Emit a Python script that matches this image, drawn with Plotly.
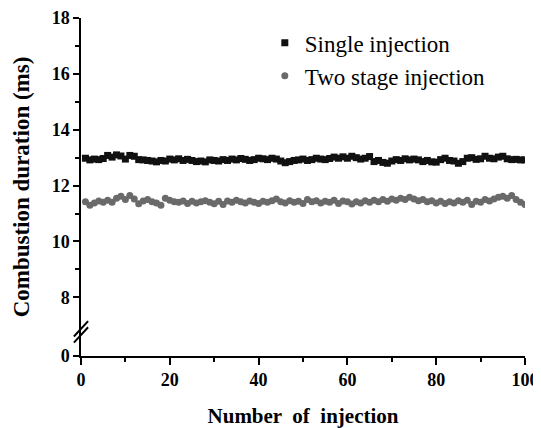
import plotly.graph_objects as go

# Injection number
shots = list(range(1, 101))

# Combustion duration (ms), single injection
single = [12.98, 12.92, 12.95, 12.93, 12.97, 13.08, 13.02, 13.10, 13.06, 12.95,
          13.08, 13.05, 12.93, 12.92, 12.90, 12.88, 12.85, 12.90, 12.88, 12.95,
          12.92, 12.96, 12.90, 12.94, 12.90, 12.86, 12.88, 12.85, 12.92, 12.90,
          12.88, 12.93, 12.90, 12.95, 12.92, 12.97, 12.94, 12.90, 12.93, 12.98,
          12.96, 12.93, 12.98, 12.95, 12.88, 12.82, 12.86, 12.90, 12.92, 12.95,
          12.90, 12.93, 12.98, 12.95, 12.93, 12.97, 13.02, 12.98, 13.03, 12.98,
          13.05, 13.00, 12.95, 12.98, 13.04, 12.86, 12.90, 12.83, 12.80, 12.88,
          12.93, 12.90, 12.96, 12.92, 12.95, 12.92, 12.86, 12.90, 12.85, 12.84,
          12.93, 12.98, 12.90, 12.88, 12.80, 12.86, 12.98, 13.00, 12.94, 12.96,
          13.05, 12.98, 12.96, 13.02, 13.05, 12.96, 12.93, 12.94, 12.92, 12.92]

# Combustion duration (ms), two stage injection
two_stage = [11.42, 11.30, 11.38, 11.45, 11.40, 11.48, 11.40, 11.55, 11.62, 11.50,
             11.65, 11.52, 11.35, 11.45, 11.50, 11.42, 11.38, 11.30, 11.55, 11.48,
             11.42, 11.40, 11.45, 11.36, 11.44, 11.38, 11.42, 11.46, 11.40, 11.35,
             11.44, 11.32, 11.45, 11.40, 11.48, 11.42, 11.38, 11.45, 11.40, 11.36,
             11.44, 11.40, 11.46, 11.52, 11.42, 11.38, 11.46, 11.40, 11.44, 11.36,
             11.50, 11.42, 11.46, 11.38, 11.44, 11.40, 11.48, 11.36, 11.45, 11.42,
             11.34, 11.42, 11.38, 11.46, 11.40, 11.48, 11.42, 11.50, 11.44, 11.52,
             11.48, 11.55, 11.50, 11.58, 11.52, 11.46, 11.50, 11.42, 11.46, 11.38,
             11.44, 11.36, 11.42, 11.38, 11.46, 11.40, 11.48, 11.32, 11.44, 11.40,
             11.50, 11.45, 11.52, 11.58, 11.62, 11.55, 11.65, 11.50, 11.40, 11.32]

# broken y axis: the "0" tick sits just below 8
y_tickvals = [5.9, 8, 10, 12, 14, 16, 18]
y_ticktext = ["0", "8", "10", "12", "14", "16", "18"]
x_tickvals = [0, 20, 40, 60, 80, 100]

serif = "Liberation Serif"

fig = go.Figure()
fig.add_trace(go.Scatter(x=shots, y=single, mode="markers", name="Single injection",
                         legendgroup="a",
                         marker=dict(symbol="square", size=7, color="#111111")))
fig.add_trace(go.Scatter(x=shots, y=two_stage, mode="markers", name="Two stage injection",
                         legendgroup="b",
                         marker=dict(symbol="circle", size=7, color="#6a6a6a")))

# axis break marks
for dy in [0.0, -0.22]:
    fig.add_shape(type="line", xref="x domain", yref="y",
                  x0=-0.016, x1=0.016, y0=6.6 + dy, y1=7.15 + dy,
                  line=dict(color="black", width=2))

# page body adds an 8px offset, so the figure is 8px smaller than the window
fig.update_layout(
    width=533, height=420,
    margin=dict(l=73, r=16, t=10, b=72),
    paper_bgcolor="white", plot_bgcolor="white",
    font=dict(family=serif, color="black"),
    showlegend=True,
    legend=dict(x=0.414, y=0.99, xanchor="left", yanchor="top",
                font=dict(family=serif, size=23, color="black"),
                tracegroupgap=0, itemwidth=30, bgcolor="rgba(0,0,0,0)"),
)
fig.update_xaxes(range=[0, 100], tickvals=x_tickvals, showgrid=False, zeroline=False,
                 automargin=False, ticklabeloverflow="allow",
                 showline=True, linecolor="black", linewidth=1.5,
                 ticks="outside", ticklen=7, tickwidth=1.5, tickcolor="black",
                 minor=dict(dtick=10, tick0=0, ticks="outside", ticklen=4, tickwidth=1.5,
                            tickcolor="black", showgrid=False),
                 tickfont=dict(family=serif, size=18, color="black", weight="bold"),
                 title=dict(text="Number  of  injection", standoff=20,
                            font=dict(family=serif, size=21, color="black", weight="bold")))
fig.update_yaxes(range=[5.9, 18], tickvals=y_tickvals, ticktext=y_ticktext,
                 showgrid=False, zeroline=False, automargin=False, ticklabeloverflow="allow",
                 showline=True, linecolor="black", linewidth=1.5,
                 ticks="outside", ticklen=6, tickwidth=1.5, tickcolor="black",
                 minor=dict(tickvals=[9, 11, 13, 15, 17], ticks="outside", ticklen=4,
                            tickwidth=1.5, tickcolor="black", showgrid=False),
                 tickfont=dict(family=serif, size=18, color="black", weight="bold"),
                 title=dict(text="Combustion duration (ms)", standoff=16,
                            font=dict(family=serif, size=23, color="black", weight="bold")))

fig.write_html("out.html")
